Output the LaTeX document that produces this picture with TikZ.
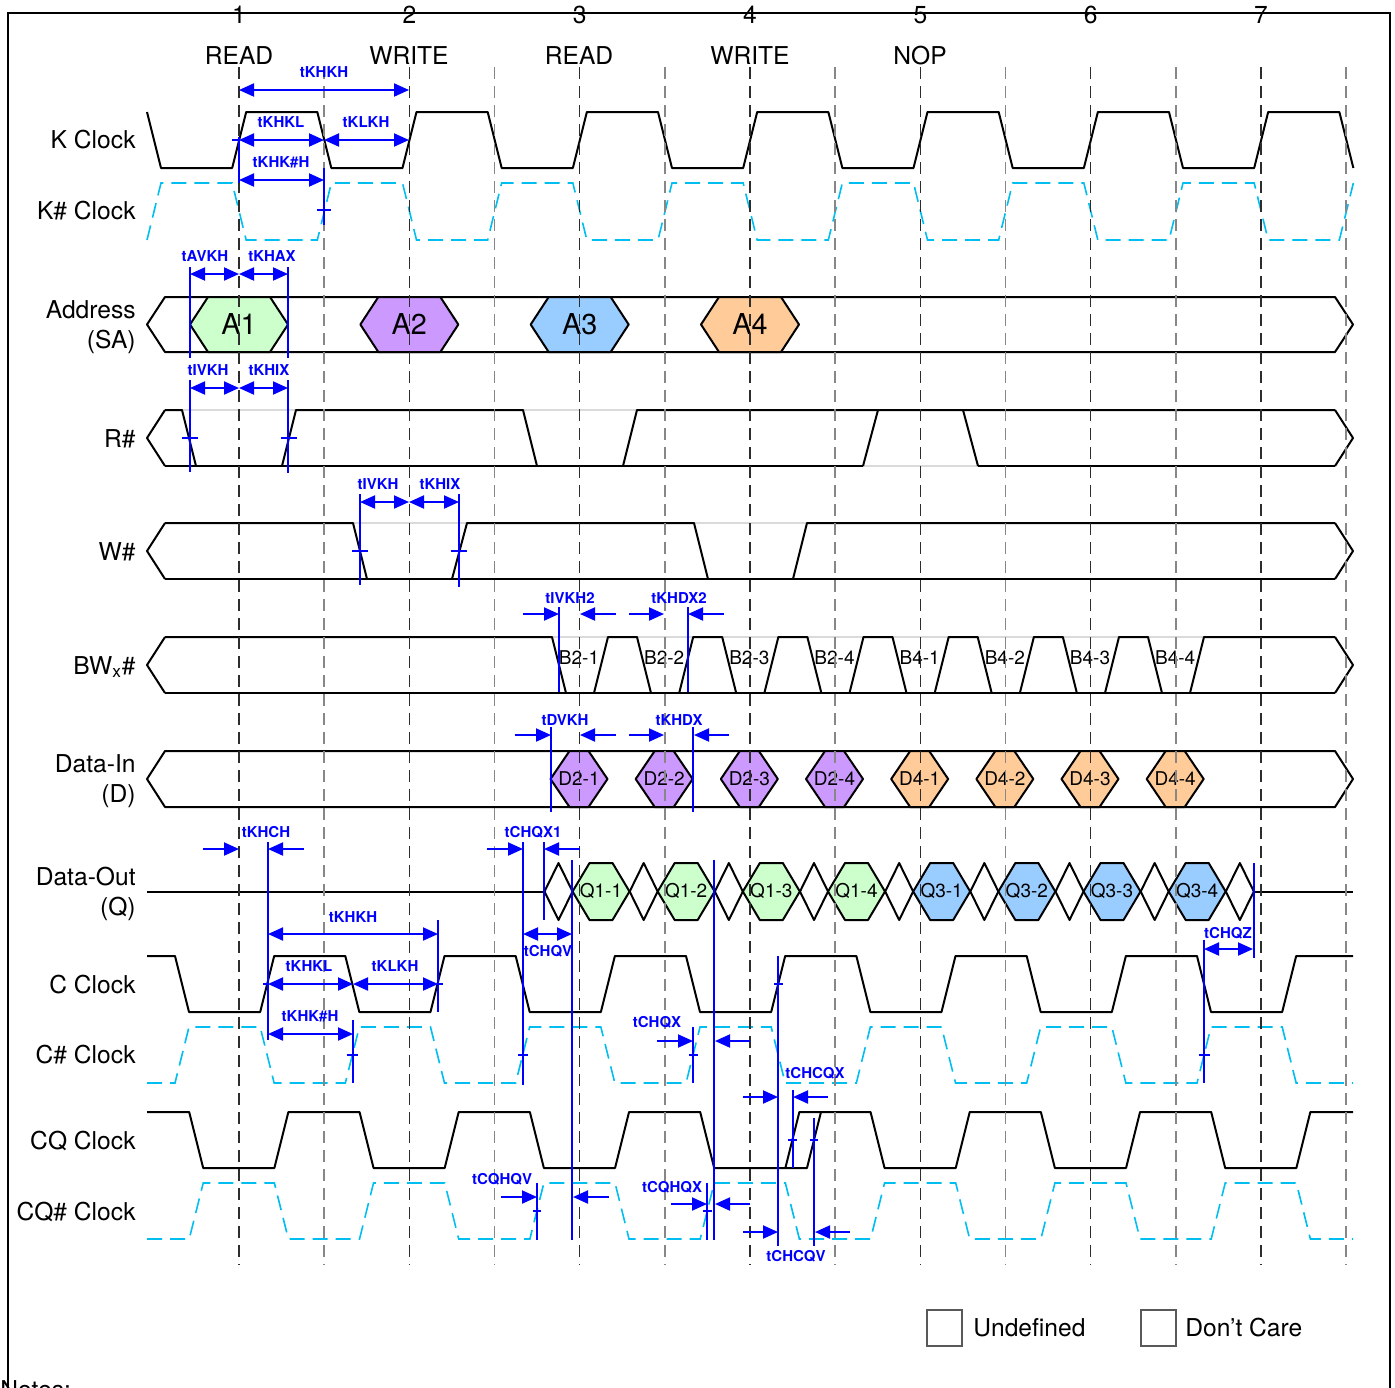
\documentclass[tikz,border=0pt]{standalone}
\usepackage{fontspec}
\setmainfont{TeX Gyre Heros}
\usetikzlibrary{arrows.meta}
\definecolor{cy}{RGB}{0,190,240}
\definecolor{gA}{HTML}{CCFFCC}
\definecolor{pA}{HTML}{CC99FF}
\definecolor{bA}{HTML}{99CCFF}
\definecolor{oA}{HTML}{FFCC99}
\definecolor{lg}{RGB}{218,218,218}
\definecolor{gd}{RGB}{45,45,45}
\definecolor{gl}{RGB}{135,135,135}
\def\HP{85.1667}
\begin{document}
\begin{tikzpicture}[x=0.5pt,y=-0.5pt,
 sig/.style={line width=1pt, black, line join=round},
 ghost/.style={line width=0.8pt, lg},
 cyclk/.style={line width=0.8pt, cy, dash pattern=on 7.5pt off 4pt},
 gridA/.style={line width=0.8pt, gd, dash pattern=on 6pt off 3.5pt},
 gridB/.style={line width=0.8pt, gl, dash pattern=on 6pt off 3.5pt},
 tm/.style={blue, line width=1pt},
 dim/.style={tm, {Triangle[length=7.5pt,width=6.5pt]}-{Triangle[length=7.5pt,width=6.5pt]}},
 arr/.style={tm, -{Triangle[length=7.5pt,width=6.5pt]}},
 tk/.style={blue, line width=0.7pt},
 tl/.style={text=blue, font=\bfseries\fontsize{7.5}{9}\selectfont, inner sep=0pt},
 rl/.style={font=\fontsize{12.3}{14}\selectfont, anchor=base east, inner sep=0pt},
 tp/.style={font=\fontsize{12.3}{14}\selectfont, inner sep=0pt},
 hl/.style={font=\fontsize{14.4}{16}\selectfont, inner sep=0pt},
 sl/.style={font=\fontsize{9.5}{11}\selectfont, inner sep=0pt},
]
\useasboundingbox (0,0) rectangle (1395,1387);
% frame
\draw[line width=1pt] (8,1420) -- (8,13) -- (1390,13) -- (1390,1420);
% top labels
\foreach \i/\n in {0/1,1/2,2/3,3/4,4/5,5/6,6/7}
  \node[tp] (num\n) at ({239+2*\i*\HP},15) {\n};
\node[tp] (op1) at (239,56) {READ};
\node[tp] (op2) at (409,56) {WRITE};
\node[tp] (op3) at (579,56) {READ};
\node[tp] (op4) at (750,56) {WRITE};
\node[tp] (op5) at (920,56) {NOP};
% row labels
\node[rl] (lk) at (136,148) {K Clock};
\node[rl] (lkb) at (136,219) {K\# Clock};
\node[rl] (la1) at (136,318) {Address};
\node[rl] (la2) at (136,348) {(SA)};
\node[rl] (lr) at (136,447) {R\#};
\node[rl] (lw) at (136,560) {W\#};
\node[rl] (lbw) at (136,674) {BW\textsubscript{x}\#};
\node[rl] (ld1) at (136,772) {Data-In};
\node[rl] (ld2) at (136,802) {(D)};
\node[rl] (lq1) at (136,885) {Data-Out};
\node[rl] (lq2) at (136,915) {(Q)};
\node[rl] (lc) at (136,993) {C Clock};
\node[rl] (lcb) at (136,1063) {C\# Clock};
\node[rl] (lcq) at (136,1149) {CQ Clock};
\node[rl] (lcqb) at (136,1220) {CQ\# Clock};
% K clock
\draw[sig] (147,112) -- (161,168) \foreach \k in {0,...,6}{ -- ({154+(2*\k+1)*\HP-7},168) -- ({154+(2*\k+1)*\HP+7},112) -- ({154+(2*\k+2)*\HP-7},112) -- ({154+(2*\k+2)*\HP+7},168)};
\draw[cyclk] (147,240) -- (161,183) \foreach \k in {0,...,6}{ -- ({154+(2*\k+1)*\HP-7},183) -- ({154+(2*\k+1)*\HP+7},240) -- ({154+(2*\k+2)*\HP-7},240) -- ({154+(2*\k+2)*\HP+7},183)};
% Address
\draw[sig] (165,297) -- (147,324.5) -- (165,352) -- (1335,352) -- (1353,324.5) -- (1335,297) -- cycle;
\foreach \i/\c/\t in {0/gA/A1,1/pA/A2,2/bA/A3,3/oA/A4}{
  \filldraw[sig, fill=\c] ({239+2*\i*\HP-49},324.5) -- ({239+2*\i*\HP-31},297) -- ({239+2*\i*\HP+31},297) -- ({239+2*\i*\HP+49},324.5) -- ({239+2*\i*\HP+31},352) -- ({239+2*\i*\HP-31},352) -- cycle;
  \node[hl] (\t) at ({239+2*\i*\HP},324) {\t};
}
% R#
\draw[sig] (165,410) -- (147,438) -- (165,466);
\draw[sig] (1335,410) -- (1353,438) -- (1335,466);
\draw[ghost] (182,410) -- (296,410);
\draw[ghost] (523,410) -- (637,410);
\draw[ghost] (863,466) -- (978,466);
\draw[sig] (165,466) -- (863,466);
\draw[sig] (978,466) -- (1335,466);
\draw[sig] (165,410) -- (182,410) -- (196,466);
\draw[sig] (282,466) -- (296,410) -- (523,410) -- (537,466);
\draw[sig] (623,466) -- (637,410) -- (1335,410);
\draw[sig] (863,466) -- (878,410);
\draw[sig] (963,410) -- (978,466);
% W#
\draw[sig] (165,523) -- (147,551) -- (165,579);
\draw[sig] (1335,523) -- (1353,551) -- (1335,579);
\draw[ghost] (353,523) -- (467,523);
\draw[ghost] (694,523) -- (807,523);
\draw[sig] (165,579) -- (1335,579);
\draw[sig] (165,523) -- (353,523) -- (367,579);
\draw[sig] (452,579) -- (467,523) -- (694,523) -- (708,579);
\draw[sig] (793,579) -- (807,523) -- (1335,523);
% BWx#
\draw[sig] (165,637) -- (147,665) -- (165,693);
\draw[sig] (1335,637) -- (1353,665) -- (1335,693);
\draw[ghost] (552,637) -- (1204,637);
\draw[sig] (165,693) -- (1335,693);
\draw[sig] (165,637) -- (552,637) -- (566,693);
\foreach \k in {0,...,6}
  \draw[sig] ({594+\k*\HP},693) -- ({608+\k*\HP},637) -- ({637+\k*\HP},637) -- ({651+\k*\HP},693);
\draw[sig] (1190,693) -- (1204,637) -- (1335,637);
\foreach \i/\t in {0/B2-1,1/B2-2,2/B2-3,3/B2-4,4/B4-1,5/B4-2,6/B4-3,7/B4-4}
  \node[sl] (bw\i) at ({579+\i*\HP},658) {\t};
% Data-In
\draw[sig] (165,751) -- (147,779) -- (165,807) -- (1335,807) -- (1353,779) -- (1335,751) -- cycle;
\foreach \i/\c/\t in {0/pA/D2-1,1/pA/D2-2,2/pA/D2-3,3/pA/D2-4,4/oA/D4-1,5/oA/D4-2,6/oA/D4-3,7/oA/D4-4}{
  \filldraw[sig, fill=\c] ({579+\i*\HP-28.5},779) -- ({579+\i*\HP-9.5},751) -- ({579+\i*\HP+9.5},751) -- ({579+\i*\HP+28.5},779) -- ({579+\i*\HP+9.5},807) -- ({579+\i*\HP-9.5},807) -- cycle;
  \node[sl] (\t) at ({579+\i*\HP},779) {\t};
}
% Data-Out
\draw[sig] (147,891.5) -- (544.5,891.5);
\draw[sig] (1253.8,891.5) -- (1353,891.5);
\foreach \k in {0,...,8}
  \draw[sig] ({558.5+\k*\HP-14},891.5) -- ({558.5+\k*\HP},863) -- ({558.5+\k*\HP+14},891.5) -- ({558.5+\k*\HP},920) -- cycle;
\foreach \i/\c/\t in {0/gA/Q1-1,1/gA/Q1-2,2/gA/Q1-3,3/gA/Q1-4,4/bA/Q3-1,5/bA/Q3-2,6/bA/Q3-3,7/bA/Q3-4}{
  \filldraw[sig, fill=\c] ({601+\i*\HP-28.5},891.5) -- ({601+\i*\HP-11.5},863) -- ({601+\i*\HP+11.5},863) -- ({601+\i*\HP+28.5},891.5) -- ({601+\i*\HP+11.5},920) -- ({601+\i*\HP-11.5},920) -- cycle;
  \node[sl] (\t) at ({601+\i*\HP},891) {\t};
}
% C clock
\draw[sig] (147,956) -- (175,956) -- (189,1012) \foreach \k in {0,...,5}{ -- ({182+(2*\k+1)*\HP-7},1012) -- ({182+(2*\k+1)*\HP+7},956) -- ({182+(2*\k+2)*\HP-7},956) -- ({182+(2*\k+2)*\HP+7},1012)} -- ({182+13*\HP-7},1012) -- ({182+13*\HP+7},956) -- (1353,956);
\draw[cyclk] (147,1083) -- (175,1083) -- (189,1027) \foreach \k in {0,...,5}{ -- ({182+(2*\k+1)*\HP-7},1027) -- ({182+(2*\k+1)*\HP+7},1083) -- ({182+(2*\k+2)*\HP-7},1083) -- ({182+(2*\k+2)*\HP+7},1027)} -- ({182+13*\HP-7},1027) -- ({182+13*\HP+7},1083) -- (1353,1083);
% CQ clock
\draw[sig] (147,1112) -- (189.2,1112) -- (203.2,1168) \foreach \k in {0,...,5}{ -- ({196.2+(2*\k+1)*\HP-7},1168) -- ({196.2+(2*\k+1)*\HP+7},1112) -- ({196.2+(2*\k+2)*\HP-7},1112) -- ({196.2+(2*\k+2)*\HP+7},1168)} -- ({196.2+13*\HP-7},1168) -- ({196.2+13*\HP+7},1112) -- (1353,1112);
\draw[sig] (785.4,1168) -- (807,1168) -- (821,1112);
\draw[cyclk] (147,1239) -- (189.2,1239) -- (203.2,1183) \foreach \k in {0,...,5}{ -- ({196.2+(2*\k+1)*\HP-7},1183) -- ({196.2+(2*\k+1)*\HP+7},1239) -- ({196.2+(2*\k+2)*\HP-7},1239) -- ({196.2+(2*\k+2)*\HP+7},1183)} -- ({196.2+13*\HP-7},1183) -- ({196.2+13*\HP+7},1239) -- (1353,1239);
% grid
\foreach \i in {0,2,...,12}
  \draw[gridA] ({239+\i*\HP},67) -- ({239+\i*\HP},1265);
\foreach \i in {1,3,...,13}
  \draw[gridB] ({239+\i*\HP},67) -- ({239+\i*\HP},1265);
% ---- timing annotations ----
% K clock
\draw[dim] (239,90) -- (409,90);
\node[tl] (t1) at (324,72) {tKHKH};
\draw[tm] (239,137) -- (239,183);
\draw[tk] (232,140) -- (239,140);
\draw[dim] (239,140) -- (324,140);
\draw[dim] (324,140) -- (409,140);
\node[tl] (t2) at (281,122) {tKHKL};
\node[tl] (t3) at (366,122) {tKLKH};
\draw[dim] (239,180) -- (324,180);
\node[tl] (t4) at (281,162) {tKHK\#H};
\draw[tm] (324,168) -- (324,225);
\draw[tk] (317,210) -- (331,210);
% Address
\draw[dim] (190,274) -- (239,274);
\draw[dim] (239,274) -- (288,274);
\node[tl] (t5) at (205,256) {tAVKH};
\node[tl] (t6) at (272,256) {tKHAX};
\draw[tm] (190,267) -- (190,358);
\draw[tm] (288,267) -- (288,358);
% R#
\draw[dim] (190,388) -- (239,388);
\draw[dim] (239,388) -- (288,388);
\node[tl] (t7) at (208,370) {tIVKH};
\node[tl] (t8) at (269,370) {tKHIX};
\draw[tm] (190,380) -- (190,472);
\draw[tm] (288,380) -- (288,473);
\draw[tk] (182,438) -- (198,438);
\draw[tk] (281,438) -- (297,438);
% W#
\draw[dim] (360,502) -- (409,502);
\draw[dim] (409,502) -- (459,502);
\node[tl] (t9) at (378,484) {tIVKH};
\node[tl] (t10) at (440,484) {tKHIX};
\draw[tm] (360,494) -- (360,585);
\draw[tm] (459,494) -- (459,587);
\draw[tk] (352,551) -- (368,551);
\draw[tk] (451,551) -- (467,551);
% BW
\node[tl] (t11) at (570,598) {tIVKH2};
\draw[arr] (523,614) -- (559,614);
\draw[tm] (559,607) -- (559,692);
\draw[arr] (616,614) -- (580,614);
\node[tl] (t12) at (679,598) {tKHDX2};
\draw[arr] (629,614) -- (664,614);
\draw[tm] (688,607) -- (688,692);
\draw[arr] (724,614) -- (688,614);
% Data-In
\node[tl] (t13) at (565,720) {tDVKH};
\draw[arr] (515,735) -- (551,735);
\draw[tm] (551,727) -- (551,812);
\draw[arr] (616,735) -- (580,735);
\node[tl] (t14) at (679,720) {tKHDX};
\draw[arr] (629,735) -- (664,735);
\draw[tm] (693,727) -- (693,812);
\draw[arr] (729,735) -- (694,735);
% tKHCH
\node[tl] (t15) at (266,832) {tKHCH};
\draw[arr] (203,849) -- (239,849);
\draw[tm] (268,842) -- (268,1040);
\draw[arr] (304,849) -- (268,849);
% tCHQX1 / tCHQV
\node[tl] (t16) at (533,832) {tCHQX1};
\draw[arr] (487,849) -- (523,849);
\draw[tm] (523,842) -- (523,1085);
\draw[tk] (518,1055) -- (528,1055);
\draw[tm] (544,842) -- (544,920);
\draw[arr] (580,849) -- (544,849);
\draw[dim] (523,934) -- (572,934);
\node[tl] (t17) at (548,951) {tCHQV};
\draw[tm] (572,860) -- (572,1240);
% C clock timing
\draw[dim] (268,934) -- (438,934);
\node[tl] (t18) at (353,917) {tKHKH};
\draw[tm] (438,920) -- (438,1012);
\draw[tk] (263,984) -- (268,984);
\draw[tk] (438,984) -- (443,984);
\draw[dim] (268,984) -- (353,984);
\draw[dim] (353,984) -- (438,984);
\node[tl] (t19) at (309,966) {tKHKL};
\node[tl] (t20) at (395,966) {tKLKH};
\draw[dim] (268,1034) -- (353,1034);
\node[tl] (t21) at (310,1016) {tKHK\#H};
\draw[tm] (353,1020) -- (353,1083);
\draw[tk] (347,1055) -- (358,1055);
% tCHQX
\node[tl] (t22) at (657,1022) {tCHQX};
\draw[arr] (657,1041) -- (693,1041);
\draw[tm] (693,1027) -- (693,1083);
\draw[tk] (689,1055) -- (698,1055);
\draw[tm] (714,860) -- (714,1240);
\draw[arr] (750,1041) -- (715,1041);
% tCHCQX
\node[tl] (t23) at (815,1073) {tCHCQX};
\draw[arr] (743,1097) -- (778,1097);
\draw[tm] (778,956) -- (778,1246);
\draw[tk] (774,984) -- (783,984);
\draw[arr] (828,1097) -- (793,1097);
\draw[tm] (793,1090) -- (793,1168);
\draw[tk] (788,1140) -- (797,1140);
% tCHCQV
\node[tl] (t24) at (796,1256) {tCHCQV};
\draw[arr] (743,1232) -- (778,1232);
\draw[tm] (814,1118) -- (814,1246);
\draw[tk] (810,1140) -- (818,1140);
\draw[arr] (850,1232) -- (815,1232);
% tCQHQV
\node[tl] (t25) at (502,1179) {tCQHQV};
\draw[arr] (501,1197) -- (537,1197);
\draw[tm] (537,1183) -- (537,1240);
\draw[tk] (533,1211) -- (541,1211);
\draw[arr] (609,1197) -- (573,1197);
% tCQHQX
\node[tl] (t26) at (672,1187) {tCQHQX};
\draw[arr] (671,1204) -- (707,1204);
\draw[tm] (707,1183) -- (707,1240);
\draw[tk] (703,1211) -- (712,1211);
\draw[arr] (750,1204) -- (715,1204);
% tCHQZ
\node[tl] (t27) at (1228,933) {tCHQZ};
\draw[dim] (1204,949) -- (1253,949);
\draw[tm] (1204,940) -- (1204,1083);
\draw[tk] (1199,1055) -- (1210,1055);
\draw[tm] (1254,863) -- (1254,958);
% legend
\draw[line width=0.8pt, black!65] (927,1310) rectangle (962,1346);
\node[tp, anchor=west] (lundef) at (973,1328) {Undefined};
\draw[line width=0.8pt, black!65] (1141,1310) rectangle (1176,1346);
\node[tp, anchor=west] (ldc) at (1185,1328) {Don’t Care};
\node[tp, anchor=north west] (notes) at (0,1380) {Notes:};
\end{tikzpicture}
\end{document}
